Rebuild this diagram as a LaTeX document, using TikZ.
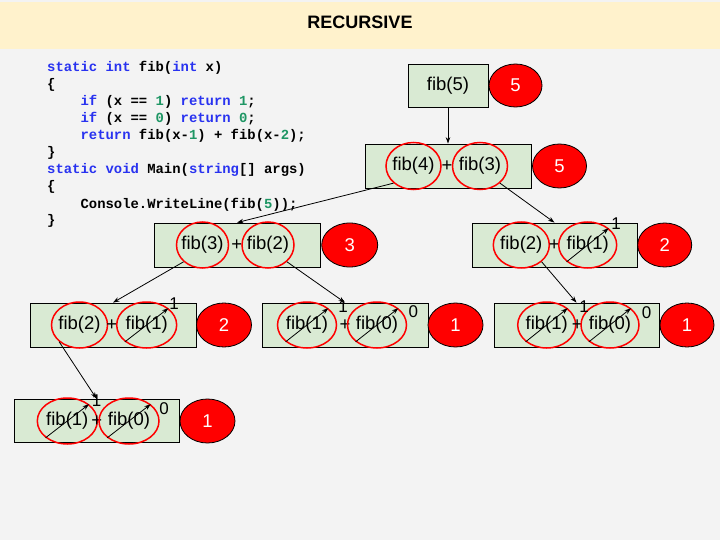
\documentclass[tikz,border=0pt]{standalone}
\usepackage{fontspec}
\setmainfont{Liberation Sans}
\newfontfamily\codefont{Liberation Mono}
\usetikzlibrary{shapes.geometric,arrows.meta,calc}

\definecolor{pagebg}{HTML}{F3F3F3}
\definecolor{titlebar}{HTML}{FFF2CC}
\definecolor{boxgreen}{HTML}{D9EAD3}
\definecolor{codeblue}{RGB}{40,50,240}
\definecolor{codegreen}{RGB}{30,150,100}

\newcommand\ckw[1]{\textcolor{codeblue}{#1}}
\newcommand\cnum[1]{\textcolor{codegreen}{#1}}
\newcommand\fibfont{\fontsize{18.5}{18.5}\selectfont}

\tikzset{
  code/.style={font=\codefont\bfseries\fontsize{13.9}{17}\selectfont, anchor=base west, inner sep=0pt},
  callbox/.style={draw=black, line width=0.8pt, fill=boxgreen, minimum width=166pt, minimum height=44pt, inner sep=0pt, font=\fibfont},
  termtext/.style={font=\fibfont, inner sep=0pt},
  term/.style={ellipse, draw=red, line width=1.5pt, minimum width=58pt, minimum height=46pt, inner sep=0pt,
               label={[termtext]center:#1}},
  plus/.style={font=\fibfont, inner sep=0pt},
  result/.style={ellipse, draw=black, line width=0.8pt, fill=red, text=white, minimum width=54pt, minimum height=44pt,
                 inner sep=0pt, font=\fibfont},
  conn/.style={-{Stealth[length=6.5pt,width=4.5pt]}, line width=0.8pt},
  val/.style={font=\fontsize{17}{17}\selectfont, inner sep=0pt},
}

\begin{document}
\begin{tikzpicture}[x=1pt,y=-1pt]
  % page and title bar
  \fill[pagebg] (0,0) rectangle (720,540);
  \useasboundingbox (0,0) rectangle (720,540);
  \fill[titlebar] (0,2) rectangle (720,49);
  \node[font=\bfseries\fontsize{18}{18}\selectfont] (title) at (360,22) {RECURSIVE};

  % source code
  \node[code] (l1)  at (47,72)    {\ckw{static} \ckw{int} fib(\ckw{int} x)};
  \node[code] (l2)  at (47,89)    {\{};
  \node[code] (l3)  at (80.4,106) {\ckw{if} (x == \cnum{1}) \ckw{return} \cnum{1};};
  \node[code] (l4)  at (80.4,123) {\ckw{if} (x == \cnum{0}) \ckw{return} \cnum{0};};
  \node[code] (l5)  at (80.4,140) {\ckw{return} fib(x-\cnum{1}) + fib(x-\cnum{2});};
  \node[code] (l6)  at (47,157)   {\}};
  \node[code] (l7)  at (47,174)   {\ckw{static} \ckw{void} Main(\ckw{string}[] args)};
  \node[code] (l8)  at (47,191)   {\{};
  \node[code] (l9)  at (80.4,208) {Console.WriteLine(fib(\cnum{5}));};
  \node[code] (l10) at (47,225)   {\}};

  % fib(5)
  \node[callbox, minimum width=80pt, minimum height=43pt] (b5) at (448,85.5) {fib(5)};
  \node[result, minimum width=53pt, minimum height=43pt] (r5a) at (515.5,85.5) {5};

  % fib(4) + fib(3)
  \node[callbox] (b43) at (448,166) {};
  \node[term=fib(4), minimum width=55pt, minimum height=47pt] (c4) at (413.5,166) {};
  \node[plus] (p43) at (447,166) {+};
  \node[term=fib(3), minimum width=55pt, minimum height=47pt] (c3) at (480,166) {};
  \node[result] (r5b) at (559.5,166) {5};

  % fib(3) + fib(2)
  \node[callbox] (b32) at (237,245) {};
  \node[term=fib(3), minimum width=52pt] (c3a) at (202.5,245) {};
  \node[plus] (p32) at (236.7,245) {+};
  \node[term=fib(2), minimum width=52pt] (c2a) at (268,245) {};
  \node[result, minimum width=56pt] (r3) at (349.7,245) {3};

  % fib(2) + fib(1), right
  \node[callbox, minimum width=165pt] (b21r) at (554.5,245) {};
  \node[term=fib(2), minimum width=56pt] (c2r) at (521.3,245) {};
  \node[plus] (p21r) at (554.3,245) {+};
  \node[term=fib(1)] (c1r) at (587.7,245) {};
  \node[result] (r2a) at (664.7,245) {2};

  % fib(2) + fib(1), left
  \node[callbox] (b21l) at (113,325) {};
  \node[term=fib(2), minimum width=56pt] (c2l) at (79.5,325) {};
  \node[plus] (p21l) at (111.7,325) {+};
  \node[term=fib(1), minimum width=60pt] (c1l) at (146.7,325) {};
  \node[result, minimum width=55pt] (r2b) at (224,325) {2};

  % fib(1) + fib(0), middle
  \node[callbox] (b10m) at (345,325) {};
  \node[term=fib(1), minimum width=59pt] (c1m) at (307,325) {};
  \node[plus] (p10m) at (345,325) {+};
  \node[term=fib(0), minimum width=59pt] (c0m) at (377,325) {};
  \node[result, minimum width=55pt] (r1a) at (455.5,325) {1};

  % fib(1) + fib(0), right
  \node[callbox, minimum width=165pt] (b10r) at (576.5,325) {};
  \node[term=fib(1)] (c1rr) at (546.7,325) {};
  \node[plus] (p10r) at (577.3,325) {+};
  \node[term=fib(0)] (c0rr) at (610,325) {};
  \node[result] (r1b) at (687,325) {1};

  % fib(1) + fib(0), bottom
  \node[callbox, minimum width=165pt, minimum height=43pt] (b10b) at (96.5,420.5) {};
  \node[term=fib(1), minimum width=60pt] (c1b) at (67.3,421) {};
  \node[plus] (p10b) at (96.7,421) {+};
  \node[term=fib(0), minimum width=60pt] (c0b) at (129,421) {};
  \node[result, minimum width=55pt] (r1c) at (207.5,421) {1};

  % base cases: arrows through the circles and returned values
  \draw[conn] (c1r.south west) -- (c1r.north east);
  \node[val] (v1r) at (616,224) {1};
  \draw[conn] (c1l.south west) -- (c1l.north east);
  \node[val] (v1l) at (174,304) {1};
  \draw[conn] (c1m.south west) -- (c1m.north east);
  \node[val] (v1m) at (343,307) {1};
  \draw[conn] (c0m.south west) -- (c0m.north east);
  \node[val] (v0m) at (413.3,311.7) {0};
  \draw[conn] (c1rr.south west) -- (c1rr.north east);
  \node[val] (v1rr) at (584,307) {1};
  \draw[conn] (c0rr.south west) -- (c0rr.north east);
  \node[val] (v0rr) at (646.7,312.7) {0};
  \draw[conn] (c1b.south west) -- (c1b.north east);
  \node[val] (v1b) at (96.7,401) {1};
  \draw[conn] (c0b.south west) -- (c0b.north east);
  \node[val] (v0b) at (164,408.3) {0};

  % recursive calls
  \draw[conn] (b5.south) -- (b43.north);
  \draw[conn] (c4.south west) -- (b32.north);
  \draw[conn] (c3.south east) -- (b21r.north);
  \draw[conn] (c3a.south west) -- (b21l.north);
  \draw[conn] (c2a.south east) -- (b10m.north);
  \draw[conn] (c2r.south east) -- (b10r.north);
  \draw[conn] (c2l.south west) -- (b10b.north);
\end{tikzpicture}
\end{document}
